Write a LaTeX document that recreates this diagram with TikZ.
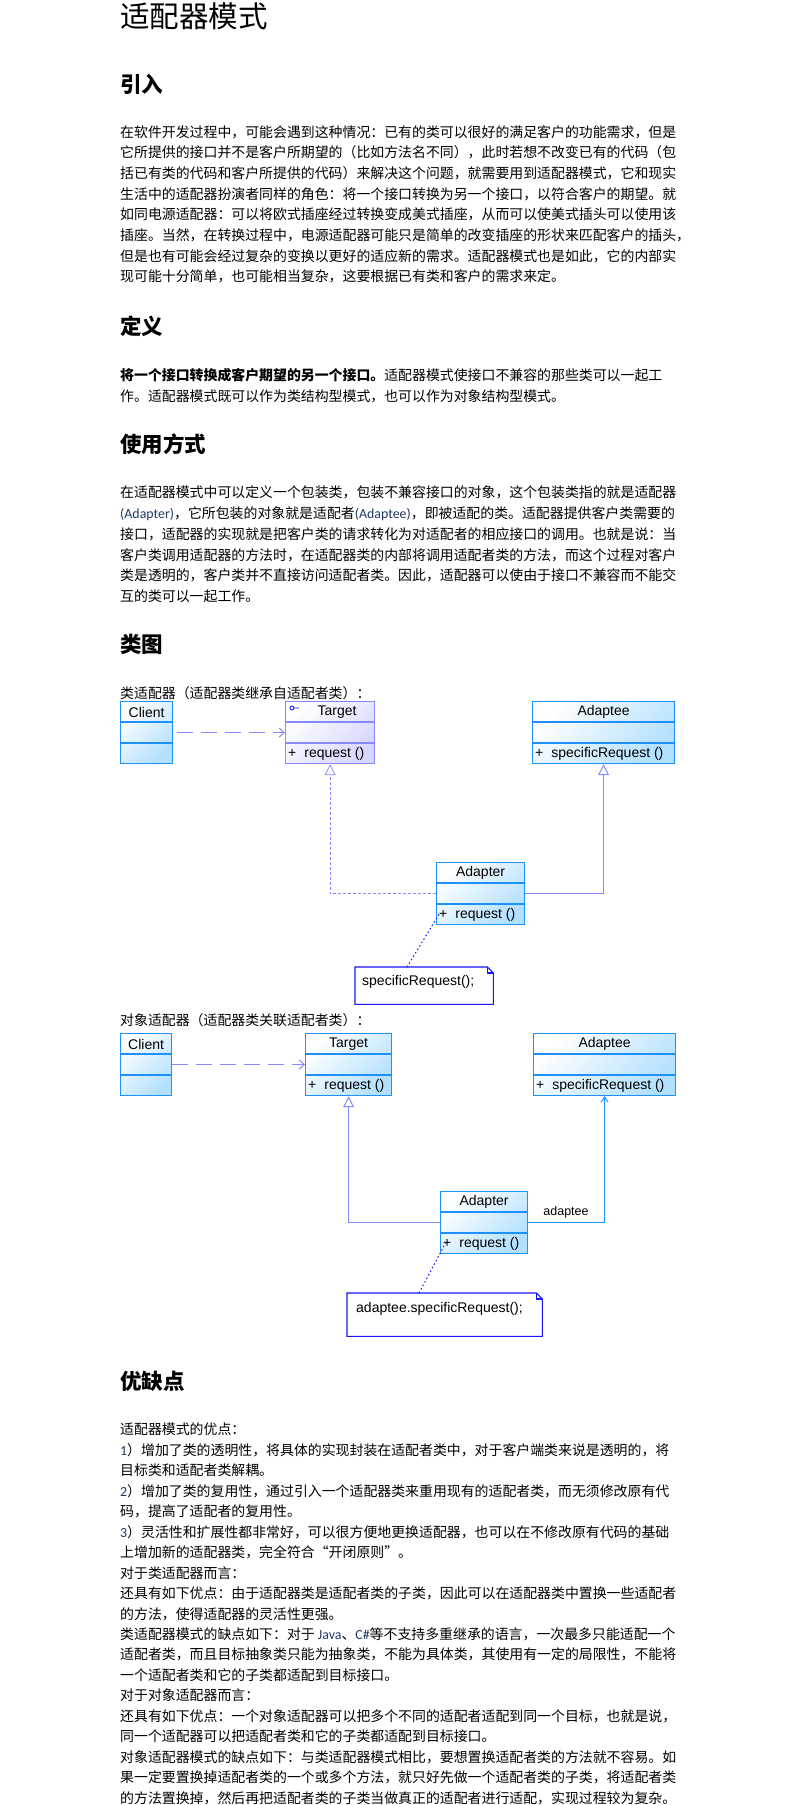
\documentclass[tikz,border=0pt]{standalone}
\usepackage{fontspec}
\setmainfont{Noto Sans CJK SC}
\newfontfamily\umlfont{Liberation Sans}
\newfontfamily\latinfont{Carlito}
\usetikzlibrary{arrows.meta,calc}

\definecolor{umlblue}{RGB}{30,144,255}
\definecolor{umlcyan}{RGB}{178,224,255}
\definecolor{umlpurple}{RGB}{136,136,255}
\definecolor{umllilac}{RGB}{214,214,255}
\definecolor{noteblue}{RGB}{20,20,255}
\definecolor{latinnavy}{RGB}{31,56,100}

\newcommand{\latin}[1]{{\latinfont\color{latinnavy}#1}}

% class box: name, style, top left, width, header, operation
\newcommand{\umlclass}[6]{%
  \node (#1) [#2, minimum width=#4] at (#3) {};
  \draw[#2 line] ($(#1.north west)+(0,21)$) -- ($(#1.north east)+(0,21)$);
  \draw[#2 line] ($(#1.north west)+(0,42)$) -- ($(#1.north east)+(0,42)$);
  \node (#1 head) [umltext] at ($(#1.north)+(0,11)$) {#5};
  \node (#1 op) [umltext, anchor=west] at ($(#1.south west)+(3,-10)$) {#6};
}

% note with folded corner
\newcommand{\umlnote}[1]{%
  \draw[note line] (#1.north west) -- ($(#1.north east)+(-6,0)$) -- ($(#1.north east)+(0,6)$)
    -- (#1.south east) -- (#1.south west) -- cycle;
  \draw[note line] ($(#1.north east)+(-6,0)$) -- ($(#1.north east)+(-6,6)$) -- ($(#1.north east)+(0,6)$);
}

\tikzset{
  pagetitle/.style={anchor=west, inner sep=0pt, font=\fontsize{29.5}{32}\selectfont},
  heading/.style={anchor=west, inner sep=0pt, font=\fontsize{21.5}{24}\selectfont\bfseries},
  para/.style={anchor=north west, inner sep=0pt, align=left, font=\fontsize{13.9}{20.7}\selectfont},
  caption/.style={anchor=west, inner sep=0pt, font=\fontsize{13.9}{16}\selectfont},
  umltext/.style={inner sep=0pt, font=\umlfont\fontsize{14}{16}\selectfont},
  classbox/.style={draw=umlblue, line width=1.2pt, top color=white, bottom color=umlcyan,
    shading angle=45, minimum height=62, inner sep=0pt, anchor=north west},
  classbox line/.style={draw=umlblue, line width=1.2pt},
  ifacebox/.style={classbox, draw=umlpurple, bottom color=umllilac, shading angle=45},
  ifacebox line/.style={draw=umlpurple, line width=1.2pt},
  notebox/.style={inner sep=0pt, anchor=north west},
  note line/.style={draw=noteblue, line width=1.1pt},
  dep/.style={draw=umlpurple, line width=1pt, dash pattern=on 16pt off 8pt,
    -{Straight Barb[length=5pt,width=9pt]}},
  realize/.style={draw=umlpurple, line width=0.8pt, dash pattern=on 3pt off 2pt,
    -{Triangle[length=11pt,width=11pt,fill=white]}},
  inherit/.style={draw=umlpurple, line width=1pt, -{Triangle[length=11pt,width=11pt,fill=white]}},
  assoc/.style={draw=umlblue, line width=1pt, -{Straight Barb[length=5pt,width=7pt]}},
  notelink/.style={draw=noteblue, line width=1pt, dash pattern=on 1.5pt off 2.5pt}
}

\begin{document}
\begin{tikzpicture}[x=1pt, y=-1pt]
  % Page
  \fill[white] (0,0) rectangle (793,1805);
  \useasboundingbox (0,0) rectangle (793,1805);

  % Title and intro
  \node (title) [pagetitle] at (120,16) {适配器模式};
  \node (introhead) [heading] at (120,84) {引入};
  \node (intro) [para] at (120,125) {在软件开发过程中，可能会遇到这种情况：已有的类可以很好的满足客户的功能需求，但是\\
它所提供的接口并不是客户所期望的（比如方法名不同），此时若想不改变已有的代码（包\\
括已有类的代码和客户所提供的代码）来解决这个问题，就需要用到适配器模式，它和现实\\
生活中的适配器扮演者同样的角色：将一个接口转换为另一个接口，以符合客户的期望。就\\
如同电源适配器：可以将欧式插座经过转换变成美式插座，从而可以使美式插头可以使用该\\
插座。当然，在转换过程中，电源适配器可能只是简单的改变插座的形状来匹配客户的插头，\\
但是也有可能会经过复杂的变换以更好的适应新的需求。适配器模式也是如此，它的内部实\\
现可能十分简单，也可能相当复杂，这要根据已有类和客户的需求来定。};

  % Definition
  \node (defhead) [heading] at (120,326) {定义};
  \node (def) [para] at (120,368) {{\bfseries 将一个接口转换成客户期望的另一个接口。}适配器模式使接口不兼容的那些类可以一起工\\
作。适配器模式既可以作为类结构型模式，也可以作为对象结构型模式。};

  % Usage
  \node (usehead) [heading] at (120,444) {使用方式};
  \node (use) [para] at (120,486) {在适配器模式中可以定义一个包装类，包装不兼容接口的对象，这个包装类指的就是适配器\\
\latin{(Adapter)}，它所包装的对象就是适配者\latin{(Adaptee)}，即被适配的类。适配器提供客户类需要的\\
接口，适配器的实现就是把客户类的请求转化为对适配者的相应接口的调用。也就是说：当\\
客户类调用适配器的方法时，在适配器类的内部将调用适配者类的方法，而这个过程对客户\\
类是透明的，客户类并不直接访问适配者类。因此，适配器可以使由于接口不兼容而不能交\\
互的类可以一起工作。};

  % Class diagrams
  \node (umlhead) [heading] at (120,644) {类图};

  % class adapter
  \node (cap1) [caption] at (120,693) {类适配器（适配器类继承自适配者类）：};
  \umlclass{client1}{classbox}{120,701}{52}{Client}{}
  \umlclass{target1}{ifacebox}{285,701}{89}{\hspace{14pt}Target}{+\hspace{8pt}request ()}
  \umlclass{adaptee1}{classbox}{532,701}{142}{Adaptee}{+\hspace{8pt}specificRequest ()}
  \umlclass{adapter1}{classbox}{436,862}{88}{Adapter}{+\hspace{8pt}request ()}
  \draw[draw=noteblue, line width=0.8pt] ($(target1.north west)+(7,7)$) circle[radius=2] ++(2,0) -- ++(5,0);
  \node (note1) [notebox, minimum width=138, minimum height=37] at (355,967) {};
  \umlnote{note1}
  \node (note1 text) [umltext, anchor=west] at ($(note1.north west)+(7,15)$) {specificRequest();};

  \draw[dep] (client1.east) ++(4,0) -- (target1.west);
  \draw[realize] (adapter1.west) -| (target1.south);
  \draw[inherit] (adapter1.east) -| (adaptee1.south);
  \draw[notelink] ($(note1.north west)+(52,0)$) -- ($(adapter1.south west)+(3,-11)$);

  % object adapter
  \node (cap2) [caption] at (120,1020) {对象适配器（适配器类关联适配者类）：};
  \umlclass{client2}{classbox}{120,1033}{51}{Client}{}
  \umlclass{target2}{classbox}{305,1033}{86}{Target}{+\hspace{8pt}request ()}
  \umlclass{adaptee2}{classbox}{533,1033}{142}{Adaptee}{+\hspace{8pt}specificRequest ()}
  \umlclass{adapter2}{classbox}{440,1191}{87}{Adapter}{+\hspace{8pt}request ()}
  \node (note2) [notebox, minimum width=195, minimum height=43] at (347,1293) {};
  \umlnote{note2}
  \node (note2 text) [umltext, anchor=west] at ($(note2.north west)+(9,16)$) {adaptee.specificRequest();};

  \draw[dep] (client2.east) -- (target2.west);
  \draw[inherit] (adapter2.west) -| (target2.south);
  \draw[assoc] (adapter2.east) -| (adaptee2.south);
  \node (role) [umltext, font=\umlfont\fontsize{12.5}{14}\selectfont, anchor=south west]
    at ($(adapter2.east)+(15,-4)$) {adaptee};
  \draw[notelink] ($(note2.north west)+(72,0)$) -- ($(adapter2.south west)+(6,-12)$);

  % Pros and cons
  \node (prohead) [heading] at (120,1381) {优缺点};
  \node (pro) [para, font=\fontsize{13.9}{20.45}\selectfont] at (120,1423) {适配器模式的优点：\\
\latin{1}）增加了类的透明性，将具体的实现封装在适配者类中，对于客户端类来说是透明的，将\\
目标类和适配者类解耦。\\
\latin{2}）增加了类的复用性，通过引入一个适配器类来重用现有的适配者类，而无须修改原有代\\
码，提高了适配者的复用性。\\
\latin{3}）灵活性和扩展性都非常好，可以很方便地更换适配器，也可以在不修改原有代码的基础\\
上增加新的适配器类，完全符合“开闭原则”。\\
对于类适配器而言：\\
还具有如下优点：由于适配器类是适配者类的子类，因此可以在适配器类中置换一些适配者\\
的方法，使得适配器的灵活性更强。\\
类适配器模式的缺点如下：对于 \latin{Java}、\latin{C\#}等不支持多重继承的语言，一次最多只能适配一个\\
适配者类，而且目标抽象类只能为抽象类，不能为具体类，其使用有一定的局限性，不能将\\
一个适配者类和它的子类都适配到目标接口。\\
对于对象适配器而言：\\
还具有如下优点：一个对象适配器可以把多个不同的适配者适配到同一个目标，也就是说，\\
同一个适配器可以把适配者类和它的子类都适配到目标接口。\\
对象适配器模式的缺点如下：与类适配器模式相比，要想置换适配者类的方法就不容易。如\\
果一定要置换掉适配者类的一个或多个方法，就只好先做一个适配者类的子类，将适配者类\\
的方法置换掉，然后再把适配者类的子类当做真正的适配者进行适配，实现过程较为复杂。};
\end{tikzpicture}
\end{document}
